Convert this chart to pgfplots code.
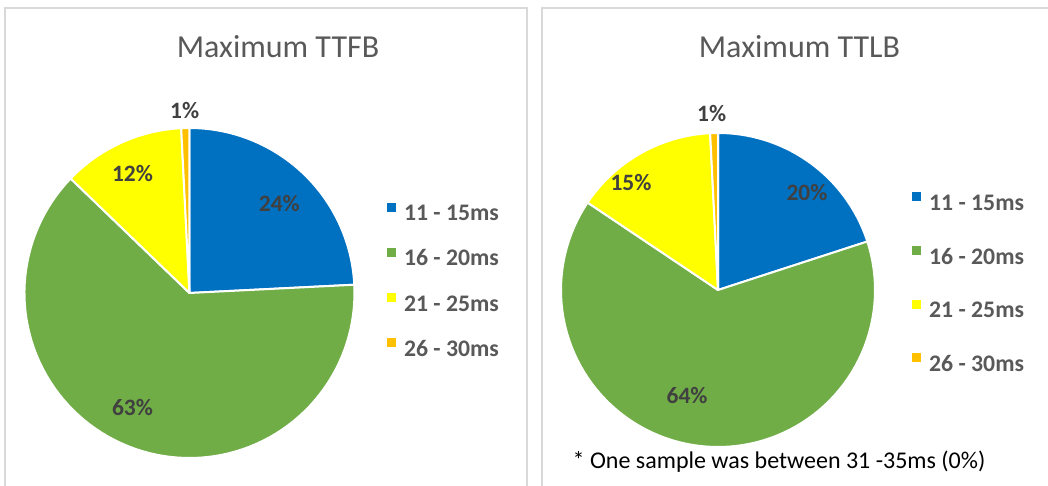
\documentclass[border=0pt]{standalone}
\usepackage{pgfplots}
\pgfplotsset{compat=1.18}
\usepackage{fontspec}
\setmainfont{Carlito}
\definecolor{cBlue}{HTML}{0070C0}
\definecolor{cGreen}{HTML}{70AD47}
\definecolor{cYellow}{HTML}{FFFF00}
\definecolor{cOrange}{HTML}{FFC000}
\definecolor{tGray}{HTML}{595959}
\definecolor{lGray}{HTML}{404040}
\definecolor{bGray}{HTML}{D9D9D9}

% #1 cumulative percent before this slice, #2 percent of this slice, #3 colour
\newcommand\slice[3]{%
  \pgfmathsetmacro\sA{90-3.6*(#1+#2)}%
  \pgfmathsetmacro\sB{90-3.6*(#1)}%
  \edef\tmp{\noexpand\addplot[fill=#3, draw=white, line width=1.5pt, line join=round,
    domain=\sA:\sB, samples=90, data cs=polar] ({x},{1}) -- (axis cs:0,0) -- cycle;}%
  \tmp}

\pgfplotsset{
  pieaxis/.style={
    anchor=center, hide axis, clip=false,
    xmin=-1, xmax=1, ymin=-1, ymax=1,
    legend cell align=left,
    legend image code/.code={\fill[##1, draw=none] (0pt,2.2pt) rectangle (6.8pt,9pt);},
    legend style={draw=none, fill=none, inner sep=0pt, outer sep=0pt,
      anchor=north west, column sep=6pt,
      font=\bfseries\fontsize{17.8}{20}\selectfont, text=tGray,
      nodes={inner sep=0pt, text height=13pt, text depth=4pt}},
  },
}
\tikzset{lbl/.style={font=\bfseries\fontsize{17.6}{20}\selectfont, text=lGray}}

\begin{document}
\begin{tikzpicture}
\useasboundingbox (0,0) rectangle (786pt,363.75pt);
% panel borders
\draw[bGray, line width=1.2pt] (3.75pt,-5pt) -- (3.75pt,357.75pt) -- (395.25pt,357.75pt) -- (395.25pt,-5pt);
\draw[bGray, line width=1.2pt] (406.5pt,-5pt) -- (406.5pt,357.75pt) -- (790pt,357.75pt);

% titles
\node[anchor=base, font=\fontsize{24}{28}\selectfont, text=tGray] at (208.5pt,320.25pt) {Maximum TTFB};
\node[anchor=base, font=\fontsize{24}{28}\selectfont, text=tGray] at (599.6pt,320.25pt) {Maximum TTLB};

% ---------------- Maximum TTFB ----------------
\begin{axis}[pieaxis, at={(142.1pt,144pt)}, x=123.75pt, y=123.75pt,
  legend style={at={(1.0985,0.773)}, row sep=16.3pt}]
\slice{0}{24.2}{cBlue}
\addlegendentry{11 - 15ms}
\slice{24.2}{63.0}{cGreen}
\addlegendentry{16 - 20ms}
\slice{87.2}{12.0}{cYellow}
\addlegendentry{21 - 25ms}
\slice{99.2}{0.8}{cOrange}
\addlegendentry{26 - 30ms}
\node[lbl] at (axis cs:0.545,0.54) {24\%};
\node[lbl] at (axis cs:-0.345,-0.697) {63\%};
\node[lbl] at (axis cs:-0.345,0.727) {12\%};
\node[lbl] at (axis cs:-0.029,1.109) {1\%};
\end{axis}

% ---------------- Maximum TTLB ----------------
\begin{axis}[pieaxis, at={(538.5pt,146.25pt)}, x=117.75pt, y=117.75pt,
  legend style={at={(1.118,0.811)}, row sep=22.75pt}]
\slice{0}{20.0}{cBlue}
\addlegendentry{11 - 15ms}
\slice{20.0}{64.4}{cGreen}
\addlegendentry{16 - 20ms}
\slice{84.4}{14.8}{cYellow}
\addlegendentry{21 - 25ms}
\slice{99.2}{0.8}{cOrange}
\addlegendentry{26 - 30ms}
\node[lbl] at (axis cs:0.567,0.624) {20\%};
\node[lbl] at (axis cs:-0.197,-0.675) {64\%};
\node[lbl] at (axis cs:-0.554,0.682) {15\%};
\node[lbl] at (axis cs:-0.04,1.125) {1\%};
\end{axis}

% footnote
\node[anchor=base west, font=\fontsize{18}{22}\selectfont, text=black] at (426pt,12.4pt) {* One sample was between 31 -35ms (0\%)};
\end{tikzpicture}
\end{document}
